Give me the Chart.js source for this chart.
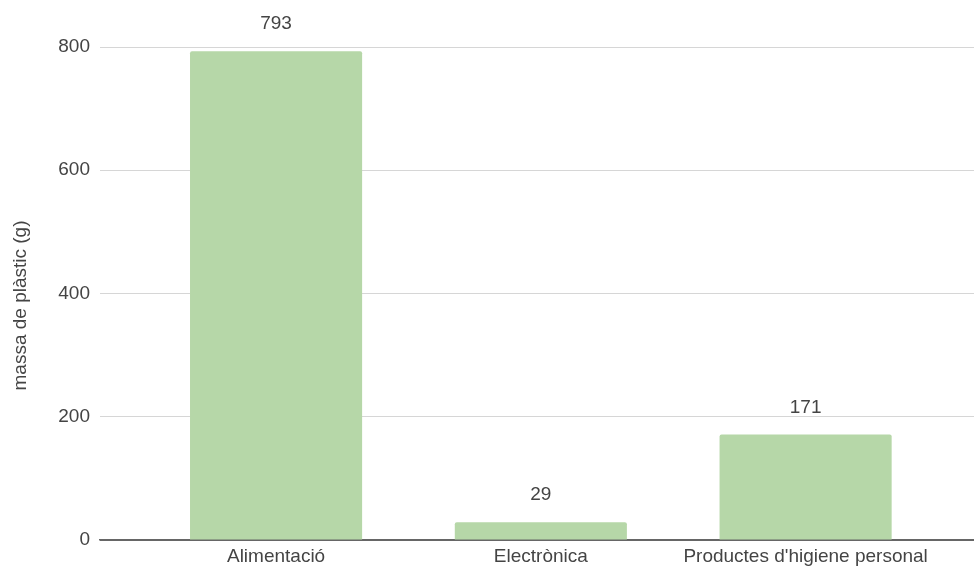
<!DOCTYPE html>
<html>
<head>
<meta charset="utf-8">
<title>massa de plàstic</title>
<script src="https://cdn.jsdelivr.net/npm/chart.js@4"></script>
<style>
  html, body { margin: 0; padding: 0; background: #fff; }
  #chart { display: block; }
</style>
</head>
<body>
<canvas id="chart" width="974" height="569"></canvas>
<script>
(function () {
    'use strict';

    var categories = ['Alimentació', 'Electrònica', "Productes d'higiene personal"];
    var massValues = [793, 29, 171];
    var yTicks = [0, 200, 400, 600, 800];
    var yTitle = 'massa de plàstic (g)';

    var FONT = 'Arial, "Liberation Sans", sans-serif';
    var SIZE = 19;
    var TEXT = '#444';
    var BAR = '#b6d7a8';

    // value printed above each bar
    var valueLabels = {
        id: 'valueLabels',
        afterDatasetsDraw: function (chart) {
            var ctx = chart.ctx;
            var meta = chart.getDatasetMeta(0);
            ctx.save();
            ctx.font = SIZE + 'px ' + FONT;
            ctx.fillStyle = TEXT;
            ctx.textAlign = 'center';
            ctx.textBaseline = 'alphabetic';
            meta.data.forEach(function (bar, i) {
                ctx.fillText(String(massValues[i]), bar.x, bar.y - 22);
            });
            ctx.restore();
        }
    };

    // rotated y axis title, sitting a little below the axis middle
    var axisTitle = {
        id: 'axisTitle',
        afterDraw: function (chart) {
            var ctx = chart.ctx;
            var area = chart.chartArea;
            ctx.save();
            ctx.translate(21, (area.top + area.bottom) / 2 + 12);
            ctx.rotate(-Math.PI / 2);
            ctx.font = SIZE + 'px ' + FONT;
            ctx.fillStyle = TEXT;
            ctx.textAlign = 'center';
            ctx.textBaseline = 'middle';
            ctx.fillText(yTitle, 0, 0);
            ctx.restore();
        }
    };

    new Chart(document.getElementById('chart'), {
        type: 'bar',
        data: {
            datasets: [{
                data: massValues.map(function (v, i) { return { x: i, y: v }; }),
                backgroundColor: BAR,
                borderRadius: 2,
                borderSkipped: 'bottom',
                barPercentage: 0.65,
                categoryPercentage: 1
            }]
        },
        options: {
            responsive: false,
            animation: false,
            devicePixelRatio: 1,
            layout: { padding: { top: 47, right: 0, bottom: 0, left: 0 } },
            plugins: {
                legend: { display: false },
                tooltip: { enabled: false }
            },
            scales: {
                x: {
                    type: 'linear',
                    offset: false,
                    min: -0.665,
                    max: 2.636,
                    afterBuildTicks: function (scale) {
                        scale.ticks = categories.map(function (_, i) { return { value: i }; });
                    },
                    afterFit: function (scale) { scale.height = 29; },
                    grid: { display: false, drawTicks: false },
                    border: { display: true, color: '#666', width: 1.5 },
                    ticks: {
                        padding: 5,
                        color: TEXT,
                        font: { family: FONT, size: SIZE },
                        autoSkip: false,
                        maxRotation: 0,
                        callback: function (v) { return categories[v]; }
                    }
                },
                y: {
                    min: 0,
                    max: 800,
                    afterBuildTicks: function (scale) {
                        scale.ticks = yTicks.map(function (v) { return { value: v }; });
                    },
                    afterFit: function (scale) { scale.width = 100; },
                    grid: {
                        drawTicks: false,
                        color: function (c) { return c.tick && c.tick.value === 0 ? '#666' : '#d6d6d6'; },
                        lineWidth: 1
                    },
                    border: { display: false },
                    ticks: {
                        padding: 10,
                        color: TEXT,
                        font: { family: FONT, size: SIZE }
                    }
                }
            }
        },
        plugins: [valueLabels, axisTitle]
    });
})();
</script>
</body>
</html>
